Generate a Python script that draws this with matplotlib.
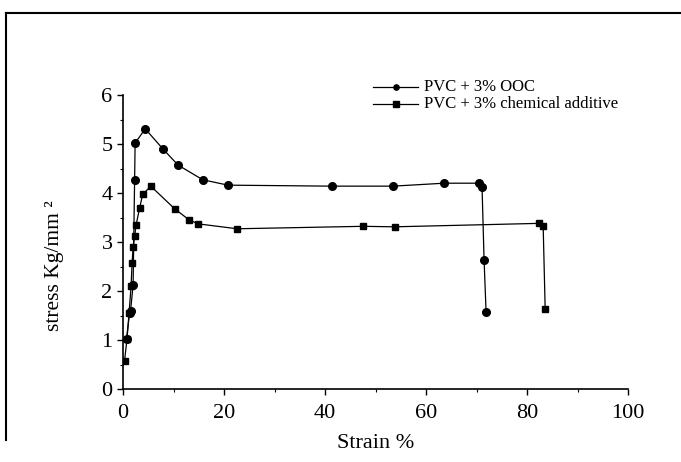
import matplotlib
matplotlib.use("Agg")
import matplotlib.pyplot as plt
from matplotlib.lines import Line2D
from matplotlib.ticker import MultipleLocator

plt.rcParams['font.family'] = ['Liberation Serif', 'DejaVu Serif']

# PVC + 3% OOC (circles)
ooc_strain = [0.7, 1.3, 1.5, 2.0, 2.3, 2.4, 4.4, 7.9, 10.9, 15.8, 20.8, 41.3, 53.5, 63.6, 70.5, 71.1, 71.5, 71.9]
ooc_stress = [1.03, 1.55, 1.60, 2.12, 4.27, 5.02, 5.31, 4.90, 4.57, 4.27, 4.16, 4.14, 4.14, 4.20, 4.20, 4.12, 2.63, 1.57]

# PVC + 3% chemical additive (squares)
chem_strain = [0.3, 0.8, 1.2, 1.6, 1.8, 2.0, 2.3, 2.6, 3.3, 3.9, 5.5, 10.2, 13.1, 14.9, 22.6, 47.5, 53.8, 82.3, 83.2, 83.6]
chem_stress = [0.57, 1.03, 1.55, 2.10, 2.57, 2.90, 3.12, 3.35, 3.70, 3.97, 4.14, 3.68, 3.45, 3.37, 3.27, 3.32, 3.31, 3.38, 3.33, 1.63]

labels = ['PVC + 3% OOC', 'PVC + 3% chemical additive']
x_ticks = [0, 20, 40, 60, 80, 100]
y_ticks = [0, 1, 2, 3, 4, 5, 6]

W, H = 681, 462
fig = plt.figure(figsize=(W / 100, H / 100), dpi=100)
ax = fig.add_axes([123 / W, 1 - 389 / H, (628 - 123) / W, (389 - 95) / H])

ax.plot(ooc_strain, ooc_stress, '-o', color='black', lw=0.9, ms=5.5, label=labels[0])
ax.plot(chem_strain, chem_stress, '-s', color='black', lw=0.9, ms=4.8, label=labels[1])

ax.set_xlim(0, 100)
ax.set_ylim(0, 6)
ax.set_xticks(x_ticks)
ax.set_yticks(y_ticks)
ax.xaxis.set_minor_locator(MultipleLocator(10))
ax.yaxis.set_minor_locator(MultipleLocator(0.5))
ax.spines['top'].set_visible(False)
ax.spines['right'].set_visible(False)
for s in ['left', 'bottom']:
    ax.spines[s].set_linewidth(1.2)
ax.tick_params(axis='both', which='major', direction='out', length=4.5, width=1.0, labelsize=16)
ax.tick_params(axis='both', which='minor', direction='out', length=2.5, width=0.8)
ax.tick_params(axis='x', which='major', pad=6)
ax.tick_params(axis='y', which='major', pad=3)

ax.set_xlabel('Strain %', fontsize=16, labelpad=8)
fig.text(55 / W, 1 - 266 / H, 'stress Kg/mm ²', rotation=90, fontsize=15.5,
         ha='center', va='center')

# legend (drawn manually to match the reference placement)
markers = ['o', 's']
rows_y = [87, 104]
for m, lab, ry in zip(markers, labels, rows_y):
    yf = 1 - ry / H
    fig.add_artist(Line2D([373 / W, 418 / W], [yf, yf], color='black', lw=0.9,
                          transform=fig.transFigure))
    fig.add_artist(Line2D([396 / W], [yf], color='black', marker=m, ms=3.8, lw=0,
                          transform=fig.transFigure))
    fig.text(424 / W, yf, lab, fontsize=12, ha='left', va='center')

# outer frame of the figure
fig.add_artist(Line2D([6 / W, 1.0], [1 - 13 / H, 1 - 13 / H], color='black', lw=1.5, transform=fig.transFigure))
fig.add_artist(Line2D([6 / W, 6 / W], [1 - 13 / H, 1 - 440 / H], color='black', lw=1.5, transform=fig.transFigure))

fig.savefig('out.png', dpi=100)
